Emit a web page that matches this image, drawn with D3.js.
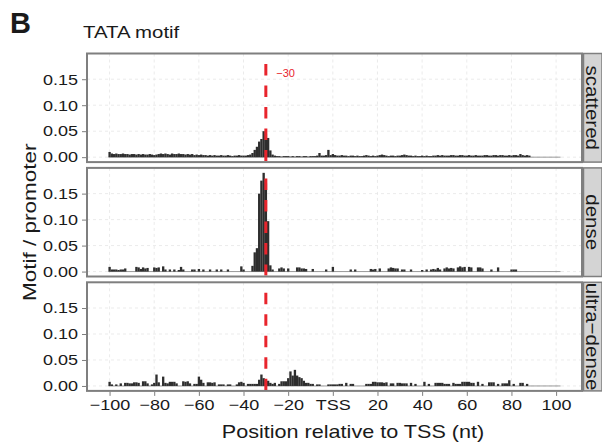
<!DOCTYPE html>
<html>
<head>
<meta charset="utf-8">
<script src="https://cdn.jsdelivr.net/npm/d3@7/dist/d3.min.js"></script>
<style>
  html, body { margin: 0; padding: 0; background: #fff; }
  svg { display: block; font-family: "Liberation Sans", Arial, Helvetica, sans-serif; }
</style>
</head>
<body>
<svg id="chart" width="602" height="448"></svg>
<script>
// ---------------- data ----------------
const panelNames = ["scattered", "dense", "ultra\u2212dense"];
const firstPosition = -100; // values below are for positions -100, -99, ..., 88
const scatteredValues = [
  0.010,0.007,0.006,0.007,0.006,0.006,0.007,0.006,0.006,0.005,
  0.006,0.006,0.005,0.006,0.005,0.006,0.005,0.005,0.006,0.005,
  0.004,0.005,0.006,0.007,0.006,0.007,0.006,0.005,0.007,0.006,
  0.006,0.007,0.006,0.006,0.005,0.006,0.005,0.006,0.004,0.005,
  0.004,0.005,0.004,0.004,0.003,0.004,0.003,0.004,0.003,0.003,
  0.004,0.003,0.003,0.004,0.003,0.002,0.003,0.003,0.004,0.003,
  0.003,0.003,0.004,0.005,0.008,0.014,0.020,0.030,0.035,0.050,
  0.045,0.037,0.013,0.005,0.003,0.002,0.002,0.001,0.002,0.002,
  0.002,0.001,0.002,0.001,0.002,0.002,0.001,0.002,0.002,0.001,
  0.002,0.002,0.002,0.003,0.008,0.003,0.003,0.004,0.014,0.004,
  0.006,0.004,0.003,0.003,0.004,0.003,0.003,0.002,0.003,0.003,
  0.002,0.003,0.002,0.002,0.003,0.004,0.003,0.002,0.003,0.002,
  0.003,0.004,0.005,0.004,0.003,0.002,0.003,0.003,0.002,0.003,
  0.003,0.004,0.005,0.004,0.003,0.003,0.002,0.003,0.002,0.002,
  0.003,0.002,0.003,0.002,0.002,0.003,0.003,0.004,0.003,0.004,
  0.003,0.003,0.003,0.004,0.004,0.003,0.003,0.004,0.004,0.003,
  0.003,0.004,0.003,0.003,0.004,0.003,0.003,0.003,0.004,0.004,
  0.003,0.003,0.004,0.004,0.003,0.004,0.004,0.003,0.003,0.004,
  0.003,0.004,0.004,0.003,0.006,0.004,0.003,0.004,0.003
];
const denseValues = [
  0.009,0.004,0.004,0.004,0.003,0.004,0.004,0.006,0,0,
  0,0,0.009,0.008,0.005,0.008,0.006,0.007,0,0,
  0.008,0.007,0.008,0,0.010,0.004,0,0.004,0,0.004,
  0,0.003,0.009,0.004,0,0,0,0.004,0.004,0,
  0.005,0,0.004,0,0,0.004,0,0,0.004,0,
  0.004,0,0,0.004,0,0,0,0,0,0.010,
  0.004,0,0,0,0.011,0.037,0.045,0.150,0.175,0.190,
  0.170,0.097,0.012,0.004,0,0,0.006,0.008,0.006,0,
  0.006,0,0,0,0.008,0.008,0.006,0.006,0.005,0,
  0,0.005,0,0,0,0,0,0.004,0,0,
  0.009,0,0,0,0,0,0,0,0.004,0,
  0.004,0,0,0,0,0,0,0.005,0.004,0.005,
  0,0.006,0,0,0,0.006,0.008,0.007,0.006,0.006,
  0,0.004,0.004,0,0,0.004,0,0,0,0,
  0.003,0,0.004,0,0.004,0.005,0.004,0.007,0.004,0,
  0.006,0.008,0.006,0.007,0.006,0,0.008,0.010,0.008,0.009,
  0,0.009,0.008,0,0,0.008,0.008,0.006,0,0,
  0,0.004,0,0,0.008,0,0,0,0,0,
  0.004,0.004,0.004,0,0,0,0,0,0
];
const ultraDenseValues = [
  0.008,0.003,0,0.003,0,0.005,0,0.006,0.006,0.005,
  0.005,0.007,0.007,0.006,0,0.009,0.009,0.005,0,0.003,
  0.006,0.022,0.007,0,0.018,0.006,0.005,0.008,0.008,0.008,
  0.005,0,0,0.009,0.008,0.009,0.005,0,0.004,0.004,
  0.018,0.012,0.006,0,0.007,0.007,0.006,0.007,0,0.003,
  0.003,0.003,0,0.003,0.003,0,0,0.003,0.007,0.008,
  0.006,0,0.004,0.004,0.004,0.004,0.004,0.012,0.022,0.015,
  0.008,0.010,0.006,0.004,0.006,0,0.004,0.009,0.009,0.009,
  0.015,0.028,0.020,0.031,0.020,0.017,0.015,0.010,0.006,0.006,
  0.004,0.004,0,0.003,0.003,0,0,0,0.003,0.003,
  0.003,0.003,0.003,0.004,0.004,0,0.006,0,0.004,0.004,
  0,0,0,0,0,0.004,0.004,0.004,0.008,0.008,
  0.007,0.007,0.007,0.006,0.007,0,0.005,0.005,0,0.006,
  0.006,0.005,0.005,0.005,0,0.006,0,0.004,0,0,
  0,0.008,0,0.004,0,0,0.006,0.006,0.006,0.006,
  0.004,0.004,0.004,0,0.006,0.004,0.004,0.004,0.008,0.008,
  0.008,0.008,0.006,0.006,0,0.008,0,0.004,0,0,
  0.007,0.007,0.007,0,0.004,0,0.005,0.005,0.005,0.011,
  0,0.004,0,0,0.006,0.006,0,0.004,0
];
const panelValues = [scatteredValues, denseValues, ultraDenseValues];
const xTickValues = [-100, -80, -60, -40, -20, 0, 20, 40, 60, 80, 100];
const xTickLabels = ["\u2212100", "\u221280", "\u221260", "\u221240", "\u221220", "TSS", "20", "40", "60", "80", "100"];
const yTickValues = [0, 0.05, 0.10, 0.15];
const yTickLabels = ["0.00", "0.05", "0.10", "0.15"];
const markerPosition = -30;
const markerLabel = "\u221230";
const baselineEnd = 102;

// ---------------- layout ----------------
const svg = d3.select("#chart");
const left = 87, right = 582, stripW = 18.5;
const panelTop0 = 53.5, panelH = 108.6, panelGap = 5.8;
const stretch = 1.2; // horizontal stretch of the reference lettering
const x = d3.scaleLinear().domain([-110.1, 111.6]).range([left, right]);

svg.append("text").attr("transform", "translate(10,33)")
  .attr("font-size", 29).attr("font-weight", "bold").attr("fill", "#1a1a1a").text("B");
svg.append("text").attr("transform", `translate(83,37.5) scale(${stretch},1)`)
  .attr("font-size", 17).attr("fill", "#1a1a1a").text("TATA motif");

panelNames.forEach((name, pi) => {
  const top = panelTop0 + pi * (panelH + panelGap);
  const y = d3.scaleLinear().domain([-0.0095, 0.1995]).range([top + panelH, top]);
  const g = svg.append("g");

  g.append("rect").attr("x", left).attr("y", top).attr("width", right - left).attr("height", panelH)
    .attr("fill", "#fff");

  // grid
  g.selectAll(".gx").data(xTickValues).enter().append("line")
    .attr("x1", d => x(d)).attr("x2", d => x(d)).attr("y1", top).attr("y2", top + panelH)
    .attr("stroke", "#e6e6e6").attr("stroke-width", 0.8).attr("stroke-dasharray", "3,3");
  g.selectAll(".gy").data(yTickValues).enter().append("line")
    .attr("x1", left).attr("x2", right).attr("y1", d => y(d)).attr("y2", d => y(d))
    .attr("stroke", "#e6e6e6").attr("stroke-width", 0.8).attr("stroke-dasharray", "3,3");

  // baseline
  g.append("line").attr("x1", x(firstPosition - 0.5)).attr("x2", x(baselineEnd))
    .attr("y1", y(0)).attr("y2", y(0)).attr("stroke", "#9a9a9a").attr("stroke-width", 1);

  // bars
  const vals = panelValues[pi];
  g.selectAll(".bar").data(vals.map((v, i) => ({p: firstPosition + i, v})).filter(d => d.v > 0))
    .enter().append("rect")
    .attr("x", d => x(d.p - 0.5)).attr("width", d => x(d.p + 0.5) - x(d.p - 0.5) + 0.1)
    .attr("y", d => y(d.v)).attr("height", d => y(0) - y(d.v))
    .attr("fill", "#2e2e2e");

  // marker line
  g.append("line").attr("x1", x(markerPosition)).attr("x2", x(markerPosition))
    .attr("y1", top + 1).attr("y2", top + panelH - 1)
    .attr("stroke", "#e8242c").attr("stroke-width", 3)
    .attr("stroke-dasharray", "11.5,10").attr("stroke-dashoffset", 12);
  if (pi === 0) {
    g.append("text").attr("x", x(markerPosition) + 10.5).attr("y", top + 23)
      .attr("font-size", 11).attr("fill", "#e8242c").text(markerLabel);
  }

  // border
  g.append("rect").attr("x", left).attr("y", top).attr("width", right - left).attr("height", panelH)
    .attr("fill", "none").attr("stroke", "#7f7f7f").attr("stroke-width", 2);

  // strip
  g.append("rect").attr("x", right + 1.5).attr("y", top).attr("width", stripW).attr("height", panelH)
    .attr("fill", "#d4d4d4").attr("stroke", "#7f7f7f").attr("stroke-width", 1.5);
  g.append("text")
    .attr("transform", `translate(${right + 1.5 + stripW / 2},${top + panelH / 2}) rotate(90) scale(1.08,1)`)
    .attr("text-anchor", "middle").attr("dy", "0.35em")
    .attr("font-size", 19).attr("fill", "#1a1a1a").text(name);

  // y axis
  const yAxis = d3.axisLeft(y).tickValues(yTickValues).tickFormat((d, i) => yTickLabels[i])
    .tickSize(4).tickPadding(4);
  const ya = g.append("g").attr("transform", `translate(${left - 1},0)`).call(yAxis);
  ya.select(".domain").remove();
  ya.selectAll(".tick line").attr("stroke", "#7f7f7f");
  ya.selectAll(".tick text").attr("x", -8 / stretch).attr("transform", `scale(${stretch},1)`)
    .attr("font-size", 15).attr("fill", "#1a1a1a")
    .attr("font-family", "Liberation Sans, Arial, sans-serif");

  if (pi === panelNames.length - 1) {
    const xAxis = d3.axisBottom(x).tickValues(xTickValues).tickFormat((d, i) => xTickLabels[i])
      .tickSize(4).tickPadding(3);
    const xa = g.append("g").attr("transform", `translate(0,${top + panelH + 1})`).call(xAxis);
    xa.select(".domain").remove();
    xa.selectAll(".tick line").attr("stroke", "#7f7f7f");
    xa.selectAll(".tick text").attr("transform", `scale(${stretch},1)`)
      .attr("font-size", 15).attr("fill", "#1a1a1a")
      .attr("font-family", "Liberation Sans, Arial, sans-serif");
  }
});

// axis titles
svg.append("text").attr("transform", `translate(353,438) scale(${stretch},1)`)
  .attr("text-anchor", "middle").attr("font-size", 18).attr("fill", "#1a1a1a")
  .text("Position relative to TSS (nt)");
svg.append("text")
  .attr("transform", `translate(36,${panelTop0 + (3 * panelH + 2 * panelGap) / 2}) rotate(-90) scale(1.25,1)`)
  .attr("text-anchor", "middle").attr("font-size", 18).attr("fill", "#1a1a1a")
  .text("Motif / promoter");
</script>
</body>
</html>
